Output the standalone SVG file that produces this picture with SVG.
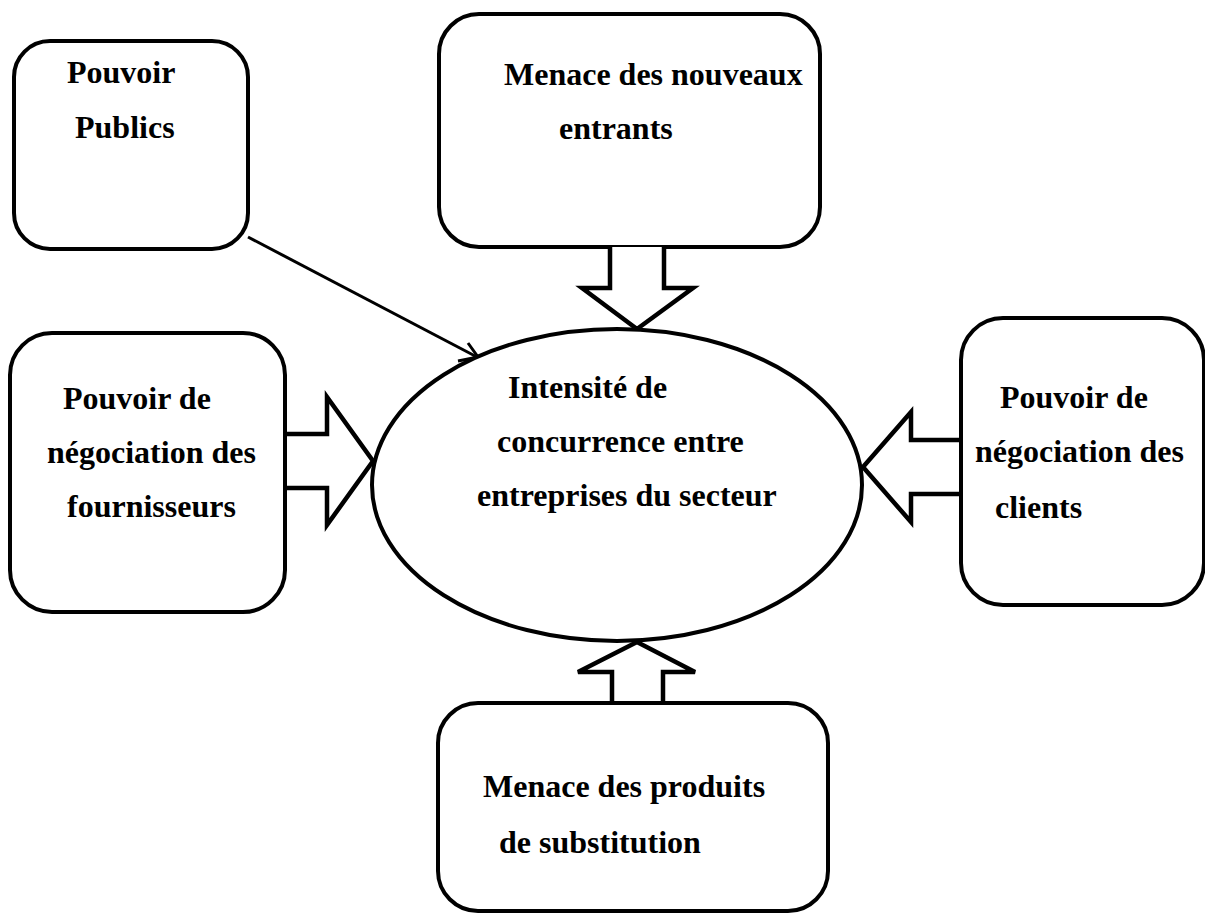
<svg xmlns="http://www.w3.org/2000/svg" width="1205" height="914" viewBox="0 0 1205 914">
<style>
.box{fill:#fff;stroke:#000;stroke-width:4}
.blk{fill:#fff;stroke:#000;stroke-width:4.5;stroke-linejoin:miter}
.t{font-family:"Liberation Serif","Times New Roman",serif;font-weight:bold;font-size:32px;fill:#000}
.ln{fill:none;stroke:#000;stroke-width:3}
</style>
<rect width="1205" height="914" fill="#fff"/>
<g id="node-publics">
<rect class="box" x="14" y="41" width="234" height="208" rx="36" ry="36"/>
<text class="t" x="67" y="83">Pouvoir</text>
<text class="t" x="75" y="138">Publics</text>
</g>
<g id="node-entrants">
<rect class="box" x="439" y="14" width="381" height="233" rx="40" ry="40"/>
<text class="t" x="504" y="85">Menace des nouveaux</text>
<text class="t" x="559" y="139">entrants</text>
</g>
<g id="node-fournisseurs">
<rect class="box" x="10" y="333" width="275" height="279" rx="42" ry="42"/>
<text class="t" x="63" y="409">Pouvoir de</text>
<text class="t" x="47" y="463">négociation des</text>
<text class="t" x="67" y="517">fournisseurs</text>
</g>
<g id="node-clients">
<rect class="box" x="961" y="318" width="243" height="287" rx="42" ry="42"/>
<text class="t" x="1000" y="408">Pouvoir de</text>
<text class="t" x="975" y="462">négociation des</text>
<text class="t" x="995" y="518">clients</text>
</g>
<g id="node-substitution">
<rect class="box" x="438" y="703" width="390" height="208" rx="40" ry="40"/>
<text class="t" x="483" y="797">Menace des produits</text>
<text class="t" x="499" y="853">de substitution</text>
</g>
<g id="connectors">
<path class="blk" d="M610,247 V288 H582 L637,329 L693,288 H664 V247"/>
<path class="blk" d="M612,701 V672 H578 L637,642 L695,672 H663 V701"/>
<path class="blk" d="M287,434 H327 V397 L373,461 L327,525 V488 H287"/>
<path class="blk" d="M959,440 H911 V412 L863,467 L911,522 V494 H959"/>
<line class="ln" x1="248" y1="237" x2="477" y2="357"/>
<path class="ln" d="M468,343 L478,357 L458,361"/>
</g>
<g id="node-center">
<ellipse class="box" cx="617" cy="485" rx="245" ry="156"/>
<text class="t" x="508" y="398">Intensité de</text>
<text class="t" x="497" y="452">concurrence entre</text>
<text class="t" x="477" y="506">entreprises du secteur</text>
</g>
</svg>
